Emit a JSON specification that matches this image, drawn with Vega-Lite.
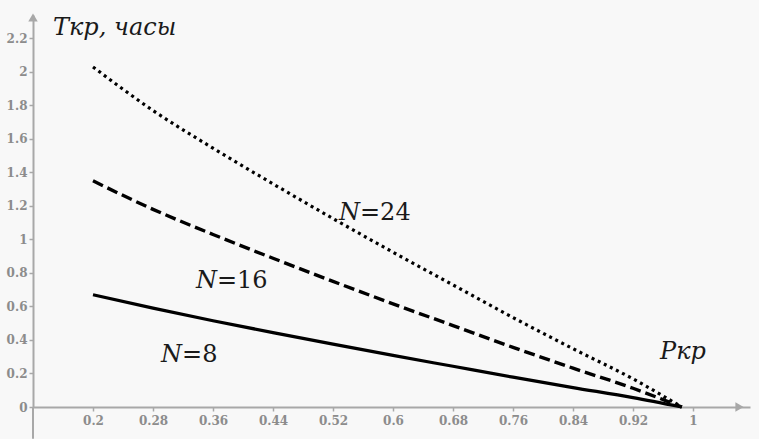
{
  "$schema": "https://vega.github.io/schema/vega-lite/v6.json",
  "autosize": "none",
  "width": 717,
  "height": 392,
  "padding": {"left": 33, "top": 15, "right": 9, "bottom": 32},
  "background": "#f8f8f8",
  "view": {"stroke": null},
  "datasets": {
    "curves": [
      {"x": 0.2, "y": 0.67, "N": 8}, {"x": 0.28, "y": 0.59, "N": 8}, {"x": 0.36, "y": 0.515, "N": 8},
      {"x": 0.44, "y": 0.444, "N": 8}, {"x": 0.52, "y": 0.375, "N": 8}, {"x": 0.6, "y": 0.308, "N": 8},
      {"x": 0.68, "y": 0.243, "N": 8}, {"x": 0.76, "y": 0.178, "N": 8}, {"x": 0.84, "y": 0.116, "N": 8},
      {"x": 0.92, "y": 0.056, "N": 8}, {"x": 0.985, "y": 0.0, "N": 8},
      {"x": 0.2, "y": 1.35, "N": 16}, {"x": 0.28, "y": 1.18, "N": 16}, {"x": 0.36, "y": 1.03, "N": 16},
      {"x": 0.44, "y": 0.888, "N": 16}, {"x": 0.52, "y": 0.75, "N": 16}, {"x": 0.6, "y": 0.616, "N": 16},
      {"x": 0.68, "y": 0.486, "N": 16}, {"x": 0.76, "y": 0.356, "N": 16}, {"x": 0.84, "y": 0.232, "N": 16},
      {"x": 0.92, "y": 0.112, "N": 16}, {"x": 0.985, "y": 0.0, "N": 16},
      {"x": 0.2, "y": 2.03, "N": 24}, {"x": 0.28, "y": 1.77, "N": 24}, {"x": 0.36, "y": 1.545, "N": 24},
      {"x": 0.44, "y": 1.332, "N": 24}, {"x": 0.52, "y": 1.125, "N": 24}, {"x": 0.6, "y": 0.924, "N": 24},
      {"x": 0.68, "y": 0.729, "N": 24}, {"x": 0.76, "y": 0.534, "N": 24}, {"x": 0.84, "y": 0.348, "N": 24},
      {"x": 0.92, "y": 0.168, "N": 24}, {"x": 0.985, "y": 0.0, "N": 24}
    ],
    "nlabels": [
      {"x": 0.3187, "y": 0.2687, "n": "N", "rest": "=8"},
      {"x": 0.3653, "y": 0.71, "n": "N", "rest": "=16"},
      {"x": 0.556, "y": 1.116, "n": "N", "rest": "=24"}
    ]
  },
  "encoding": {
    "x": {"field": "x", "type": "quantitative",
      "scale": {"domain": [0.12, 1.076], "nice": false, "zero": false},
      "axis": {"values": [0.2, 0.28, 0.36, 0.44, 0.52, 0.6, 0.68, 0.76, 0.84, 0.92, 1], "format": ".2~f", "labelPadding": 4, "title": null,
        "grid": false, "domainColor": "#a8a8a8", "domainWidth": 2, "tickColor": "#a8a8a8", "tickWidth": 1.5, "tickSize": 4,
        "labelFont": "DejaVu Serif", "labelFontSize": 12, "labelFontWeight": "bold", "labelColor": "#8c8c8c",
        "labelOverlap": false, "labelBound": false, "labelFlush": false}},
    "y": {"field": "y", "type": "quantitative",
      "scale": {"domain": [0, 2.34], "nice": false, "zero": false},
      "axis": {"values": [0, 0.2, 0.4, 0.6, 0.8, 1, 1.2, 1.4, 1.6, 1.8, 2, 2.2], "format": ".1~f", "labelPadding": 2, "title": null,
        "grid": false, "domainColor": "#a8a8a8", "domainWidth": 2, "tickColor": "#a8a8a8", "tickWidth": 1.5, "tickSize": 4,
        "labelFont": "DejaVu Serif", "labelFontSize": 12, "labelFontWeight": "bold", "labelColor": "#8c8c8c",
        "labelOverlap": false, "labelBound": false, "labelFlush": false}}
  },
  "layer": [
    {
      "data": {"values": [{"x": 0.12, "y": -0.19, "y2": 0}]},
      "mark": {"type": "rule", "color": "#a8a8a8", "strokeWidth": 2},
      "encoding": {"y2": {"field": "y2"}}
    },
    {
      "data": {"values": [{"x": 0.12, "y": 2.325, "s": "triangle-up"}, {"x": 1.062, "y": 0, "s": "triangle-right"}]},
      "mark": {"type": "point", "filled": true, "color": "#a8a8a8", "opacity": 1, "size": 90},
      "encoding": {"shape": {"field": "s", "type": "nominal", "scale": null, "legend": null}}
    },
    {
      "data": {"name": "curves"},
      "transform": [{"filter": "datum.N == 8"}],
      "mark": {"type": "line", "color": "#000000", "strokeWidth": 3.2, "interpolate": "monotone"}
    },
    {
      "data": {"name": "curves"},
      "transform": [{"filter": "datum.N == 16"}],
      "mark": {"type": "line", "color": "#000000", "strokeWidth": 3.4, "strokeDash": [11, 5], "interpolate": "monotone"}
    },
    {
      "data": {"name": "curves"},
      "transform": [{"filter": "datum.N == 24"}],
      "mark": {"type": "line", "color": "#000000", "strokeWidth": 3.2, "strokeDash": [3, 3.8], "interpolate": "monotone"}
    },
    {
      "data": {"name": "nlabels"},
      "mark": {"type": "text", "font": "DejaVu Serif", "fontSize": 24, "fontStyle": "italic", "align": "right", "baseline": "alphabetic", "color": "#1a1a1a"},
      "encoding": {"text": {"field": "n"}}
    },
    {
      "data": {"name": "nlabels"},
      "mark": {"type": "text", "font": "DejaVu Serif", "fontSize": 24, "align": "left", "baseline": "alphabetic", "color": "#1a1a1a"},
      "encoding": {"text": {"field": "rest"}}
    },
    {
      "data": {"values": [{"x": 0.1467, "y": 2.221, "t": "Ткр, часы"}, {"x": 0.956, "y": 0.2866, "t": "Ркр"}]},
      "mark": {"type": "text", "font": "DejaVu Serif", "fontSize": 24, "fontStyle": "italic", "align": "left", "baseline": "alphabetic", "color": "#1a1a1a"},
      "encoding": {"text": {"field": "t"}}
    }
  ]
}
